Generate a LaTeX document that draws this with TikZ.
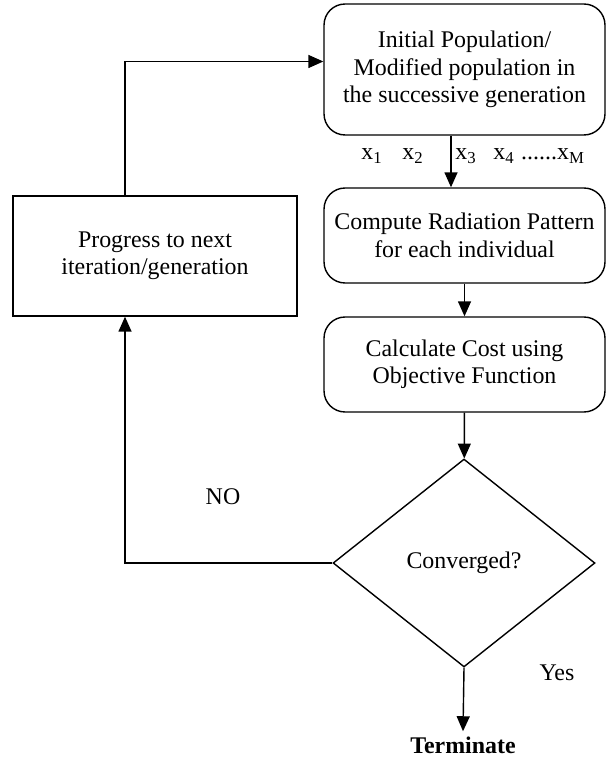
\documentclass[tikz,border=0pt]{standalone}
\usepackage{fontspec}
\setmainfont{Liberation Serif}
\usetikzlibrary{shapes.geometric}
\usetikzlibrary{arrows.meta}
\tikzset{
	box/.style={draw, line width=0.8pt, align=center, minimum width=5.62cm, font=\fontsize{13.6}{15.6}\selectfont},
	rbox/.style={box, rounded corners=0.42cm},
	arr/.style={line width=0.8pt, -{Triangle[length=0.3cm, width=0.26cm]}},
	lbl/.style={font=\fontsize{13.6}{15.6}\selectfont, inner sep=0pt}
}

\begin{document}
\begin{tikzpicture}[x=0.02cm, y=-0.02cm]
	\useasboundingbox (0,0) rectangle (607,759);
	\node[rbox, minimum height=2.62cm] (init) at (464.5,69.5){Initial Population/\\Modified population in\\the successive generation};%1
	\node[rbox, minimum height=1.9cm] (pattern) at (464.5,235.5){Compute Radiation Pattern\\for each individual};%2
	\node[rbox, minimum height=1.9cm] (cost) at (464.5,364.5){Calculate Cost using\\Objective Function};%3
	\node[diamond, draw, line width=0.8pt, minimum width=5.24cm, minimum height=4.16cm, inner sep=0pt, font=\fontsize{13.6}{15.6}\selectfont] (conv) at (464,563){Converged?};%4
	\node[box, minimum width=5.68cm, minimum height=2.4cm] (progress) at (155,256){Progress to next\\iteration/generation};%5
	\node[lbl, font=\fontsize{13.6}{15.6}\selectfont\bfseries] (term) at (463,745){Terminate};%6
	% individuals
	\node[lbl] (xa) at (372,156){x\textsubscript{1}};
	\node[lbl] (xb) at (413,156){x\textsubscript{2}};
	\node[lbl] (xc) at (466,156){x\textsubscript{3}};
	\node[lbl] (xd) at (504,156){x\textsubscript{4}};
	\node[lbl] (xm) at (553,156){......x\textsubscript{M}};
	\node[lbl] (no) at (223,497){NO};
	\node[lbl] (yes) at (557,673){Yes};
	\draw[arr] ([xshift=-0.27cm]init.south) -- ([xshift=-0.27cm]pattern.north);
	\draw[arr] (pattern) -- (cost);
	\draw[arr] (cost) -- (conv);
	\draw[arr] (conv.south) -- ([yshift=0.1cm]term.north);
	\draw[arr] (conv.west) -| ([xshift=-0.6cm]progress.south);
	\draw[arr] ([xshift=-0.6cm]progress.north) |- ([yshift=0.16cm]init.west);
\end{tikzpicture}
\end{document}
